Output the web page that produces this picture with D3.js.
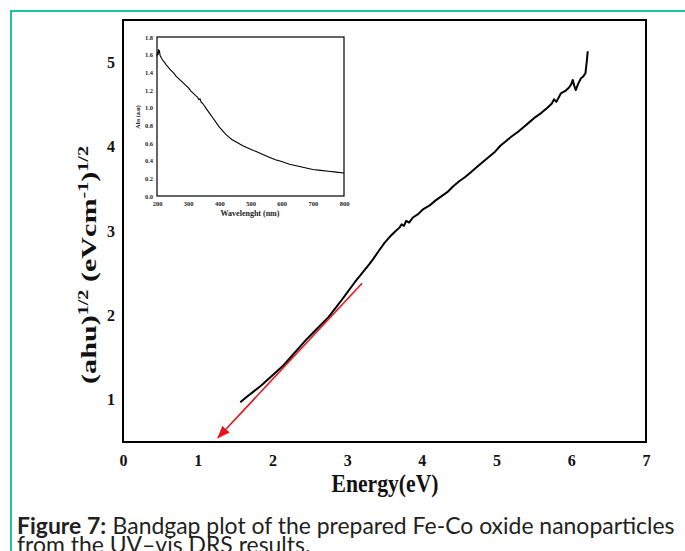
<!DOCTYPE html>
<html><head><meta charset="utf-8">
<script src="https://cdn.jsdelivr.net/npm/d3@7"></script>
<style>body{margin:0;background:#fff} svg{display:block}</style>
</head><body><svg id="c" width="685" height="551"></svg>
<script>
// ---- main Tauc plot data ----
const energy = [1.57,1.65,1.75,1.85,1.95,2.05,2.15,2.25,2.37,2.45,2.55,2.65,2.75,2.82,2.90,3.00,3.10,3.20,3.30,3.35,3.42,3.50,3.58,3.65,3.70,3.73,3.76,3.79,3.83,3.88,3.95,4.02,4.10,4.18,4.26,4.34,4.42,4.50,4.58,4.66,4.74,4.82,4.90,4.98,5.05,5.12,5.20,5.28,5.36,5.44,5.52,5.60,5.68,5.74,5.77,5.80,5.86,5.92,5.97,6.00,6.02,6.04,6.06,6.09,6.13,6.16,6.19,6.21,6.22];
const tauc = [0.97,1.03,1.10,1.17,1.25,1.33,1.41,1.51,1.63,1.71,1.80,1.89,1.98,2.06,2.15,2.27,2.39,2.50,2.61,2.67,2.76,2.86,2.94,3.00,3.04,3.08,3.06,3.12,3.10,3.16,3.20,3.26,3.30,3.36,3.41,3.46,3.53,3.59,3.64,3.70,3.76,3.82,3.88,3.94,4.01,4.06,4.12,4.17,4.23,4.29,4.35,4.40,4.46,4.51,4.56,4.53,4.63,4.66,4.70,4.74,4.79,4.72,4.67,4.74,4.81,4.83,4.87,5.03,5.13];
const fitEnergy = [3.20, 1.27];
const fitValue = [2.38, 0.55];
const xTicks = [0,1,2,3,4,5,6,7];
const yTicks = [1,2,3,4,5];

// ---- inset absorbance data ----
const wavelength = [200,202,204,205,206,208,210,213,216,220,225,230,236,242,248,254,260,266,272,278,284,290,296,302,308,314,320,326,330,334,338,342,346,350,356,362,370,380,390,400,410,420,430,440,450,460,475,490,500,520,540,560,580,600,625,650,675,700,725,750,775,800];
const absorbance = [1.58,1.62,1.60,1.66,1.63,1.64,1.59,1.57,1.55,1.53,1.51,1.48,1.46,1.43,1.41,1.39,1.36,1.34,1.32,1.30,1.28,1.26,1.24,1.22,1.19,1.17,1.15,1.13,1.12,1.09,1.10,1.06,1.05,1.03,1.00,0.97,0.93,0.88,0.83,0.78,0.74,0.70,0.67,0.64,0.62,0.60,0.57,0.545,0.53,0.50,0.47,0.44,0.41,0.39,0.36,0.34,0.32,0.30,0.29,0.28,0.27,0.26];
const insetXTicks = [200,300,400,500,600,700,800];
const insetYTicks = [0,0.2,0.4,0.6,0.8,1.0,1.2,1.4,1.6,1.8];

const captionBold = "Figure 7:";
const captionLine1 = "Bandgap plot of the prepared Fe-Co oxide nanoparticles";
const captionLine2 = "from the UV\u2013vis DRS results.";

const svg = d3.select("#c");
const serif = "'Liberation Serif','Times New Roman',serif";

// outer teal frame
svg.append("path").attr("d","M690,11 H11 V560").attr("fill","none")
  .attr("stroke","#22bfa2").attr("stroke-width",2);

// main plot
const L=123,R=646,T=20,B=442;
const x = d3.scaleLinear().domain([0,7]).range([L,R]);
const y = d3.scaleLinear().domain([0.5,5.5]).range([B,T]);

const xAxis = svg.append("g").attr("transform",`translate(0,${B})`)
  .call(d3.axisBottom(x).tickValues(xTicks).tickSize(0).tickPadding(13).tickFormat(d3.format("d")));
const yAxis = svg.append("g").attr("transform",`translate(${L},0)`)
  .call(d3.axisLeft(y).tickValues(yTicks).tickSize(0).tickPadding(8).tickFormat(d3.format("d")));
[xAxis,yAxis].forEach(a=>{
  a.select(".domain").remove();
  a.selectAll("text").attr("font-family",serif).attr("font-weight","bold").attr("font-size",16).attr("fill","#111");
});

svg.append("rect").attr("x",L).attr("y",T).attr("width",R-L).attr("height",B-T)
  .attr("fill","none").attr("stroke","#000").attr("stroke-width",2);

const pts = energy.map((e,i)=>[e,tauc[i]]);
svg.append("path").datum(pts)
  .attr("d",d3.line().x(d=>x(d[0])).y(d=>y(d[1])))
  .attr("fill","none").attr("stroke","#000").attr("stroke-width",2).attr("stroke-linejoin","round");

// red fit line with arrow
svg.append("defs").append("marker").attr("id","arr").attr("viewBox","0 0 12 9")
  .attr("refX",11).attr("refY",4.5)
  .attr("markerUnits","userSpaceOnUse").attr("orient","auto")
  .attr("markerWidth",13).attr("markerHeight",10)
  .append("path").attr("d","M0,0 L12,4.5 L0,9 z").attr("fill","#e8141b");
svg.append("line")
  .attr("x1",x(fitEnergy[0])).attr("y1",y(fitValue[0]))
  .attr("x2",x(fitEnergy[1])).attr("y2",y(fitValue[1]))
  .attr("stroke","#e8141b").attr("stroke-width",1.6).attr("marker-end","url(#arr)");

// x title
const xt = svg.append("text").attr("font-family",serif).attr("font-weight","bold")
  .attr("font-size",22).attr("text-anchor","middle").attr("fill","#111").text("Energy(eV)");
{ const w = xt.node().getComputedTextLength(); xt.attr("transform",`translate(385,492) scale(${107/w},1.1)`); }

// y title
const yt = svg.append("text").attr("font-family",serif).attr("font-weight","bold")
  .attr("font-size",21).attr("text-anchor","middle").attr("fill","#111");
yt.append("tspan").text("(ahu)");
yt.append("tspan").attr("font-size",14).attr("dy",-8).text("1/2");
yt.append("tspan").attr("dy",8).text(" (eVcm");
yt.append("tspan").attr("font-size",14).attr("dy",-8).text("-1");
yt.append("tspan").attr("dy",8).text(")");
yt.append("tspan").attr("font-size",14).attr("dy",-8).text("1/2");
{ const w = yt.node().getComputedTextLength(); yt.attr("transform",`translate(96,265) rotate(-90) scale(${238/w},1)`); }

// inset
const iL=157,iR=344,iT=37,iB=196;
const ix = d3.scaleLinear().domain([200,800]).range([iL,iR]);
const iy = d3.scaleLinear().domain([0,1.8]).range([iB,iT]);
svg.append("rect").attr("x",iL).attr("y",iT).attr("width",iR-iL).attr("height",iB-iT)
  .attr("fill","#fff").attr("stroke","#000").attr("stroke-width",1.2);
const ixA = svg.append("g").attr("transform",`translate(0,${iB})`)
  .call(d3.axisBottom(ix).tickValues(insetXTicks).tickSize(0).tickPadding(5));
const iyA = svg.append("g").attr("transform",`translate(${iL},0)`)
  .call(d3.axisLeft(iy).tickValues(insetYTicks).tickSize(0).tickPadding(4).tickFormat(d3.format(".1f")));
[ixA,iyA].forEach(a=>{
  a.select(".domain").remove();
  a.selectAll("text").attr("font-family",serif).attr("font-weight","bold").attr("font-size",6.5).attr("fill","#222");
});
svg.append("path").datum(wavelength.map((w,i)=>[w,absorbance[i]]))
  .attr("d",d3.line().x(d=>ix(d[0])).y(d=>iy(d[1])))
  .attr("fill","none").attr("stroke","#000").attr("stroke-width",1.1);
svg.append("text").attr("x",250).attr("y",216).attr("text-anchor","middle")
  .attr("font-family",serif).attr("font-weight","bold").attr("font-size",8).attr("fill","#222")
  .text("Wavelenght (nm)");
svg.append("text").attr("transform","translate(140,117) rotate(-90)").attr("text-anchor","middle")
  .attr("font-family",serif).attr("font-weight","bold").attr("font-size",6).attr("fill","#222")
  .text("Abs (a.u)");

// caption (bold label and text as separate elements)
const cap = svg.append("g").attr("font-family","Lato,'Open Sans',sans-serif").attr("fill","#231f20");
const cb = cap.append("text").attr("x",17).attr("y",534).attr("font-size",24).attr("font-weight","bold").text(captionBold);
const c1 = cap.append("text").attr("y",534).attr("font-size",24).text(captionLine1);
const c2 = cap.append("text").attr("x",17).attr("y",553).attr("font-size",24).text(captionLine2);
{
  const gap = 0.28; // em
  const wb = cb.node().getComputedTextLength(), w1 = c1.node().getComputedTextLength();
  const fs = 24*658/(wb + w1 + gap*24);
  [cb,c1,c2].forEach(t=>t.attr("font-size",fs));
  c1.attr("x", 17 + wb*fs/24 + gap*fs);
}
</script></body></html>
